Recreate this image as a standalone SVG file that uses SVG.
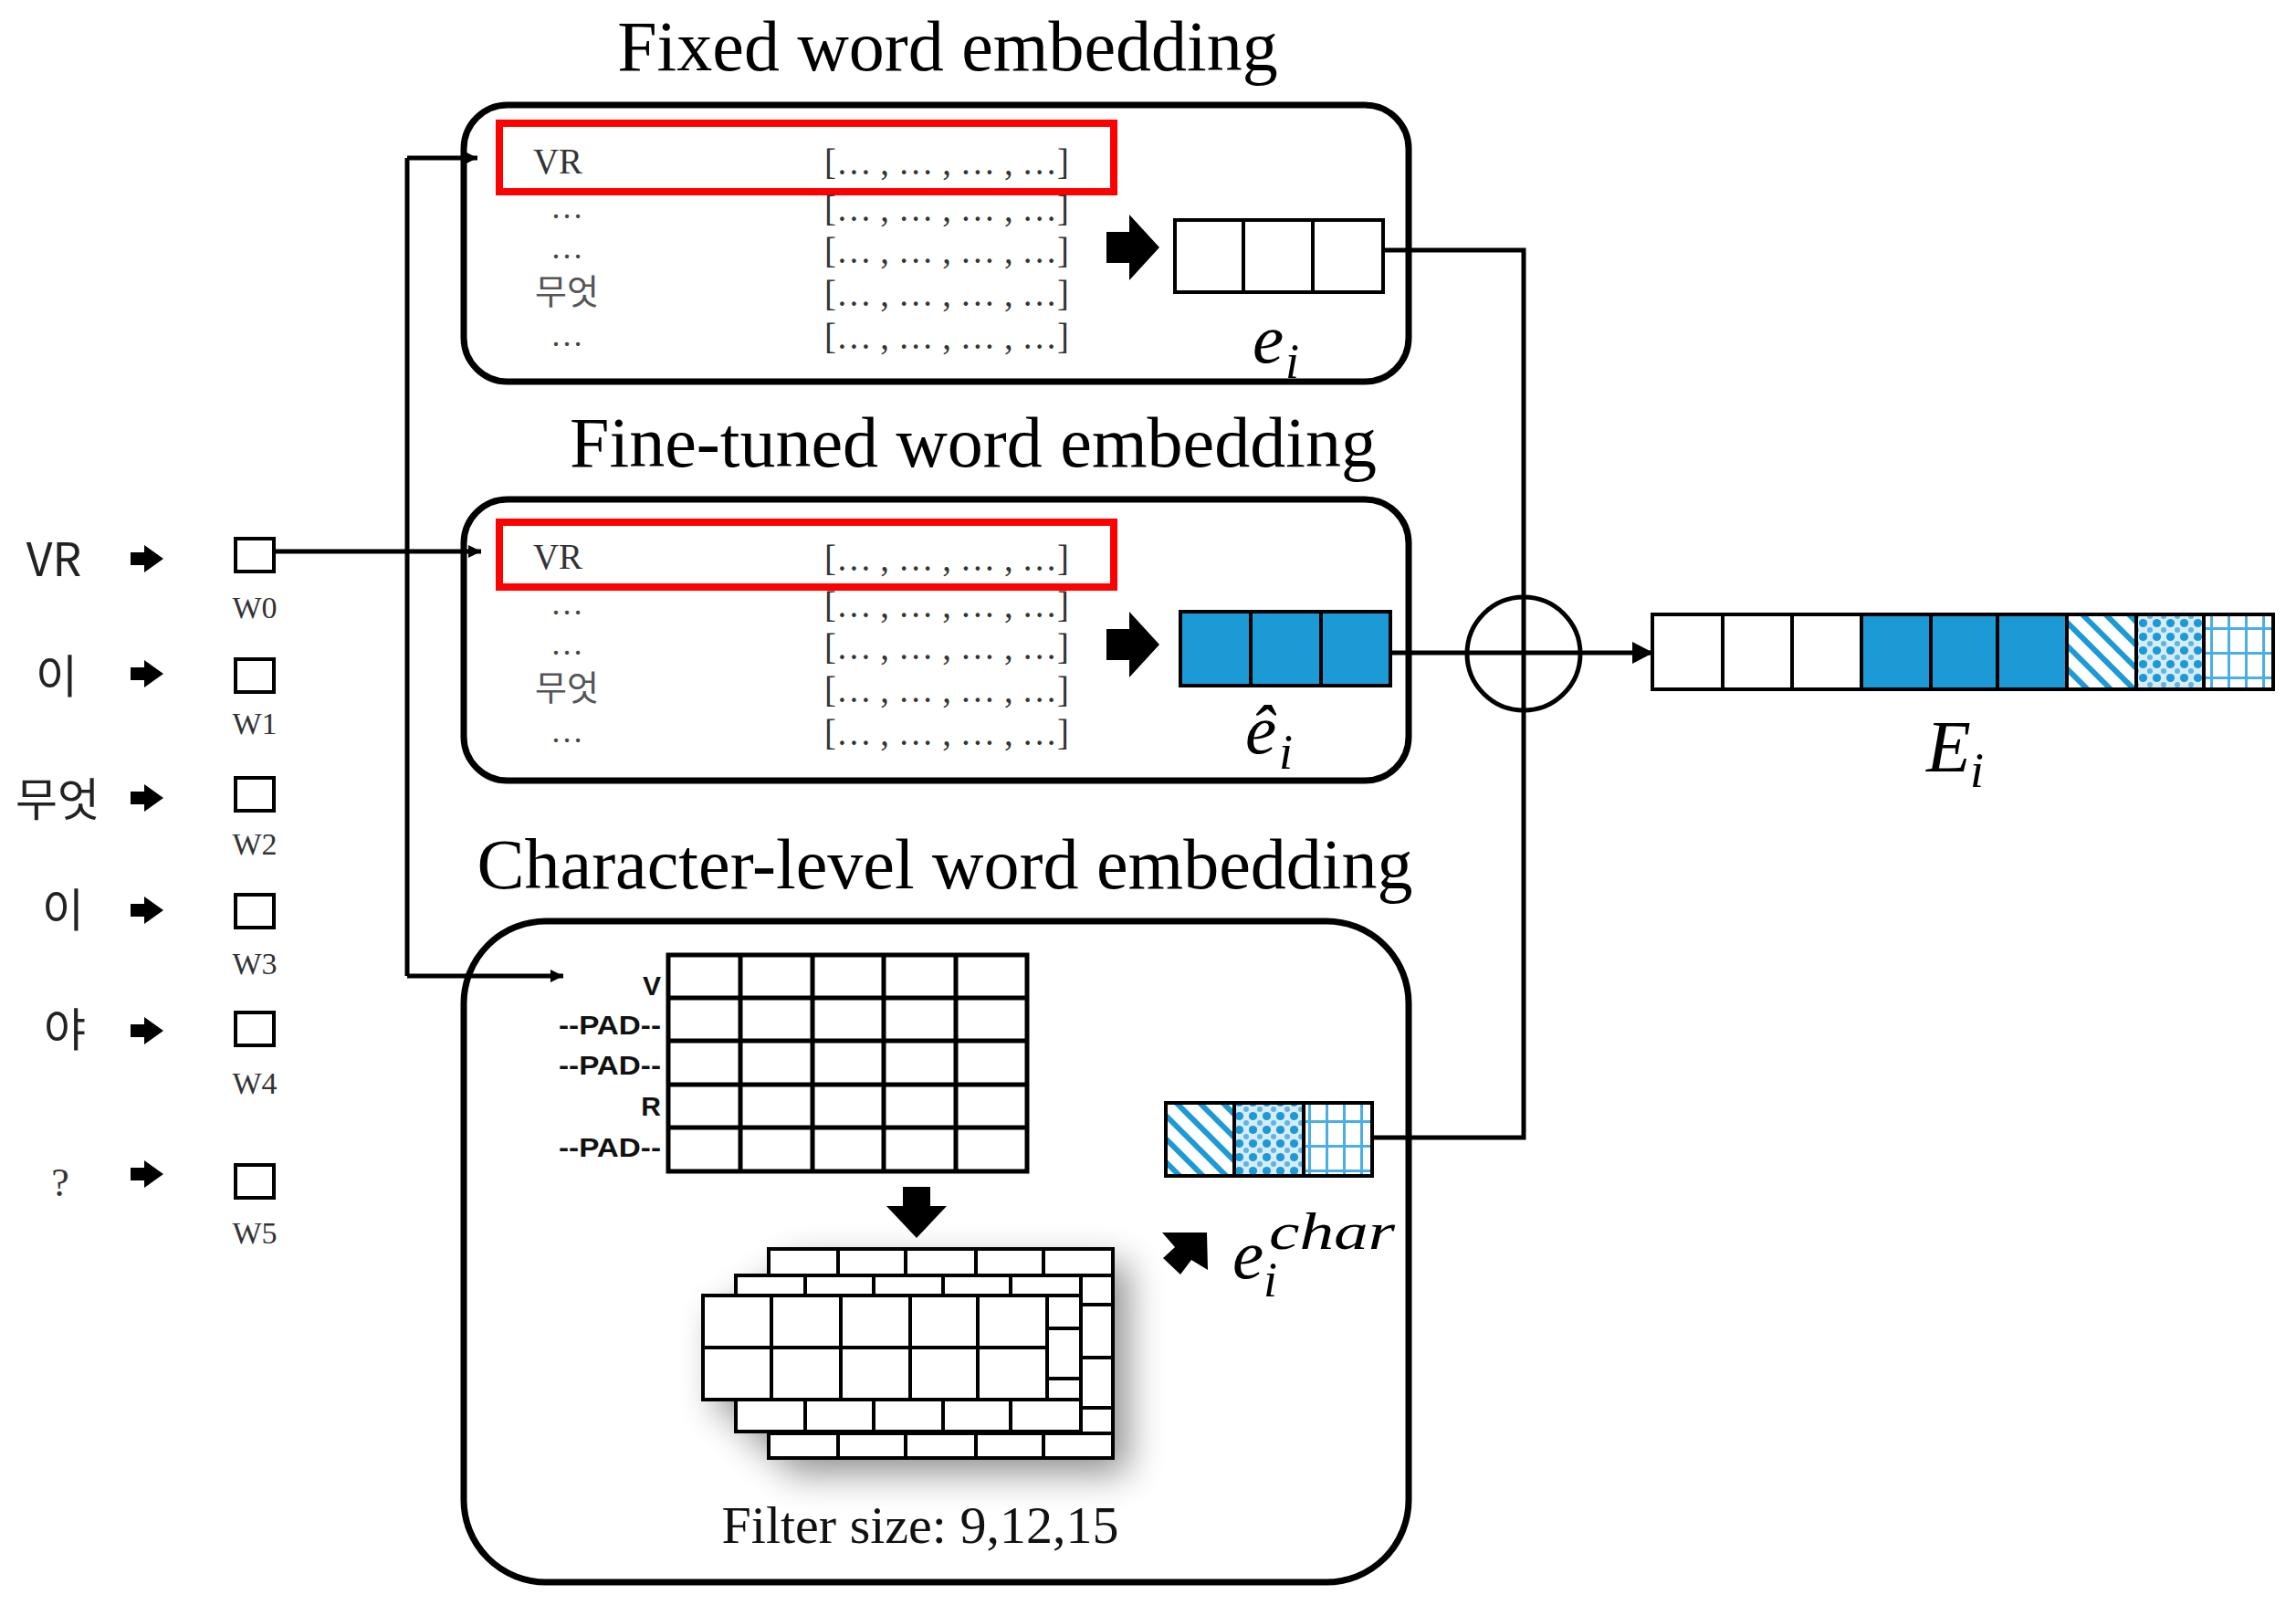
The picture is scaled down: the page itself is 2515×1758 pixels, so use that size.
<svg xmlns="http://www.w3.org/2000/svg" width="2515" height="1758" viewBox="0 0 2515 1758">
<defs>
<style>
.title{font-family:"Liberation Serif","Times New Roman",serif;font-size:78px;fill:#000;text-anchor:middle}
.box{fill:none;stroke:#000;stroke-width:7}
.red{fill:none;stroke:#ff0000;stroke-width:8}
.row{font-family:"Liberation Serif","Times New Roman",serif;font-size:40px;fill:#333}
.lab{font-family:"Liberation Serif","Times New Roman",serif;font-size:39px;fill:#333}
.dots{font-family:"Liberation Serif","Times New Roman",serif;font-size:36px;fill:#444;text-anchor:middle}
.kr{font-family:"Noto Sans CJK KR",sans-serif}
.cell{stroke:#000;stroke-width:4}
.conn{fill:none;stroke:#000;stroke-width:5}
.math{font-family:"Liberation Serif","Times New Roman",serif;font-style:italic;fill:#000}
.pad{font-family:"Liberation Sans",Arial,sans-serif;font-weight:bold;font-size:30px;text-anchor:end;fill:#111}
.grid{fill:none;stroke:#000;stroke-width:5}
.fl{stroke:#000;stroke-width:4}
.w{font-family:"Liberation Serif","Times New Roman",serif;font-size:34px;fill:#333;text-anchor:middle}
.word{font-family:"Noto Sans CJK KR",sans-serif;font-size:50px;text-anchor:middle;fill:#222}
</style>
<pattern id="pDiag" patternUnits="userSpaceOnUse" width="18" height="18" patternTransform="rotate(-45)">
<rect width="18" height="18" fill="#fff"/>
<rect width="6" height="18" fill="#1C9AD6"/>
</pattern>
<pattern id="pDots" patternUnits="userSpaceOnUse" width="15" height="15">
<rect width="15" height="15" fill="#d6ecf8"/>
<circle cx="7.5" cy="7.5" r="4.6" fill="#1C9AD6"/>
<circle cx="0" cy="0" r="3" fill="#5fb5e3"/>
<circle cx="15" cy="0" r="3" fill="#5fb5e3"/>
<circle cx="0" cy="15" r="3" fill="#5fb5e3"/>
<circle cx="15" cy="15" r="3" fill="#5fb5e3"/>
</pattern>
<pattern id="pGrid" patternUnits="userSpaceOnUse" width="19" height="27">
<rect width="19" height="27" fill="#fff"/>
<rect x="8" y="0" width="3" height="27" fill="#4aafe2"/>
<rect x="0" y="12" width="19" height="3" fill="#4aafe2"/>
</pattern>
<filter id="shadow" x="-25%" y="-25%" width="160%" height="170%">
<feGaussianBlur in="SourceAlpha" stdDeviation="20"/>
<feOffset dx="16" dy="16" result="b"/>
<feComponentTransfer><feFuncA type="linear" slope="0.45"/></feComponentTransfer>
<feMerge><feMergeNode/><feMergeNode in="SourceGraphic"/></feMerge>
</filter>
<marker id="ah" markerUnits="userSpaceOnUse" markerWidth="16" markerHeight="16" refX="14" refY="7" orient="auto">
<path d="M0,0 L14,7 L0,14 Z" fill="#000"/>
</marker>
<marker id="ahBig" markerUnits="userSpaceOnUse" markerWidth="26" markerHeight="26" refX="23" refY="12" orient="auto">
<path d="M0,0 L23,12 L0,24 Z" fill="#000"/>
</marker>
<path id="blkR" d="M0,-17 L25,-17 L25,-36 L58,0 L25,36 L25,17 L0,17 Z" fill="#000"/>
<path id="smR" d="M0,-7 L15,-7 L15,-15 L36,0 L15,15 L15,7 L0,7 Z" fill="#000"/>
</defs>

<rect width="2515" height="1758" fill="#fff"/>

<!-- Titles -->
<text class="title" x="1038" y="77">Fixed word embedding</text>
<text class="title" x="1066" y="511">Fine-tuned word embedding</text>
<text class="title" x="1035" y="973">Character-level word embedding</text>

<!-- Input words -->
<g id="word-w0">
<text class="word" x="59" y="631" font-size="47">VR</text>
<use href="#smR" transform="translate(143,612)"/>
<rect x="258" y="590" width="42" height="36" fill="#fff" stroke="#000" stroke-width="4"/>
<text class="w" x="279" y="677">W0</text>
</g>
<g id="word-w1">
<text class="word" x="62" y="759">이</text>
<use href="#smR" transform="translate(143,738)"/>
<rect x="258" y="722" width="42" height="36" fill="#fff" stroke="#000" stroke-width="4"/>
<text class="w" x="279" y="804">W1</text>
</g>
<g id="word-w2">
<text class="word" x="63" y="894">무엇</text>
<use href="#smR" transform="translate(143,874)"/>
<rect x="258" y="852" width="42" height="36" fill="#fff" stroke="#000" stroke-width="4"/>
<text class="w" x="279" y="936">W2</text>
</g>
<g id="word-w3">
<text class="word" x="69" y="1015">이</text>
<use href="#smR" transform="translate(143,997)"/>
<rect x="258" y="980" width="42" height="36" fill="#fff" stroke="#000" stroke-width="4"/>
<text class="w" x="279" y="1067">W3</text>
</g>
<g id="word-w4">
<text class="word" x="71" y="1146">야</text>
<use href="#smR" transform="translate(143,1129)"/>
<rect x="258" y="1109" width="42" height="36" fill="#fff" stroke="#000" stroke-width="4"/>
<text class="w" x="279" y="1198">W4</text>
</g>
<g id="word-w5">
<text x="66" y="1310" font-family="Liberation Serif, serif" font-size="44" text-anchor="middle" fill="#333">?</text>
<use href="#smR" transform="translate(143,1286)"/>
<rect x="258" y="1276" width="42" height="36" fill="#fff" stroke="#000" stroke-width="4"/>
<text class="w" x="279" y="1362">W5</text>
</g>

<!-- Fixed word embedding -->
<g id="fixed-embedding">
<rect class="box" x="508" y="115" width="1035" height="303" rx="48"/>
<rect class="red" x="547" y="135" width="673" height="75"/>
<text class="lab" x="584" y="190" textLength="54" lengthAdjust="spacingAndGlyphs">VR</text>
<text class="dots" x="621" y="239">…</text>
<text class="dots" x="621" y="283">…</text>
<text class="kr" x="621" y="333" font-size="38" text-anchor="middle" fill="#555">무엇</text>
<text class="dots" x="621" y="379">…</text>
<text class="row" x="903" y="191" textLength="268" lengthAdjust="spacingAndGlyphs">[… , … , … , …]</text>
<text class="row" x="903" y="242" textLength="268" lengthAdjust="spacingAndGlyphs">[… , … , … , …]</text>
<text class="row" x="903" y="288" textLength="268" lengthAdjust="spacingAndGlyphs">[… , … , … , …]</text>
<text class="row" x="903" y="335" textLength="268" lengthAdjust="spacingAndGlyphs">[… , … , … , …]</text>
<text class="row" x="903" y="382" textLength="268" lengthAdjust="spacingAndGlyphs">[… , … , … , …]</text>
<use href="#blkR" transform="translate(1212,271)"/>
<rect class="cell" x="1287" y="241" width="228" height="79" fill="#fff"/>
<line class="cell" x1="1362" y1="241" x2="1362" y2="320"/>
<line class="cell" x1="1438" y1="241" x2="1438" y2="320"/>
<text class="math" font-size="77"><tspan x="1372" y="397">e</tspan><tspan x="1408" y="414" font-size="54">i</tspan></text>
</g>

<!-- Fine-tuned word embedding -->
<g id="finetuned-embedding">
<rect class="box" x="508" y="547" width="1035" height="308" rx="48"/>
<rect class="red" x="547" y="572" width="673" height="71"/>
<text class="lab" x="584" y="623" textLength="54" lengthAdjust="spacingAndGlyphs">VR</text>
<text class="dots" x="621" y="673">…</text>
<text class="dots" x="621" y="717">…</text>
<text class="kr" x="621" y="767" font-size="38" text-anchor="middle" fill="#555">무엇</text>
<text class="dots" x="621" y="813">…</text>
<text class="row" x="903" y="625" textLength="268" lengthAdjust="spacingAndGlyphs">[… , … , … , …]</text>
<text class="row" x="903" y="676" textLength="268" lengthAdjust="spacingAndGlyphs">[… , … , … , …]</text>
<text class="row" x="903" y="722" textLength="268" lengthAdjust="spacingAndGlyphs">[… , … , … , …]</text>
<text class="row" x="903" y="769" textLength="268" lengthAdjust="spacingAndGlyphs">[… , … , … , …]</text>
<text class="row" x="903" y="816" textLength="268" lengthAdjust="spacingAndGlyphs">[… , … , … , …]</text>
<use href="#blkR" transform="translate(1212,706)"/>
<rect class="cell" x="1293" y="670" width="230" height="81" fill="#1C9AD6"/>
<line class="cell" x1="1370" y1="670" x2="1370" y2="751"/>
<line class="cell" x1="1447" y1="670" x2="1447" y2="751"/>
<text class="math" font-size="77"><tspan x="1364" y="825">ê</tspan><tspan x="1401" y="842" font-size="54">i</tspan></text>
</g>

<!-- Character-level word embedding -->
<g id="char-embedding">
<rect class="box" x="508" y="1009" width="1035" height="724" rx="90"/>
<g id="char-matrix">
<rect class="grid" x="732" y="1046" width="393" height="237" fill="#fff"/>
<path class="grid" d="M811,1046V1283 M890,1046V1283 M968,1046V1283 M1047,1046V1283 M732,1093H1125 M732,1140H1125 M732,1188H1125 M732,1235H1125"/>
<text class="pad" x="724" y="1090">V</text>
<text class="pad" x="724" y="1133" textLength="112" lengthAdjust="spacingAndGlyphs">--PAD--</text>
<text class="pad" x="724" y="1177" textLength="112" lengthAdjust="spacingAndGlyphs">--PAD--</text>
<text class="pad" x="724" y="1222">R</text>
<text class="pad" x="724" y="1267" textLength="112" lengthAdjust="spacingAndGlyphs">--PAD--</text>
</g>
<path d="M989,1300 H1019 V1321 H1037 L1004,1356 L971,1321 H989 Z" fill="#000"/>
<g id="filters">
<g filter="url(#shadow)">
<rect x="842" y="1368" width="377" height="229" fill="#fff"/>
<rect x="806" y="1397" width="378" height="171" fill="#fff"/>
<rect x="770" y="1419" width="377" height="114" fill="#fff"/>
</g>
<rect class="fl" x="842" y="1368" width="377" height="229" fill="#fff"/>
<path class="fl" fill="none" d="M918,1368V1597 M992,1368V1597 M1069,1368V1597 M1143,1368V1597 M842,1397H1219 M842,1429H1219 M842,1487H1219 M842,1542H1219 M842,1570H1219"/>
<rect class="fl" x="806" y="1397" width="378" height="171" fill="#fff"/>
<path class="fl" fill="none" d="M882,1397V1568 M957,1397V1568 M1033,1397V1568 M1107,1397V1568 M806,1419H1184 M806,1455H1184 M806,1510H1184 M806,1533H1184"/>
<rect class="fl" x="770" y="1419" width="377" height="114" fill="#fff"/>
<path class="fl" fill="none" d="M845,1419V1533 M921,1419V1533 M997,1419V1533 M1071,1419V1533 M770,1476H1147"/>
</g>
<text x="1008" y="1690" font-family="Liberation Serif, 'Times New Roman', serif" font-size="58" text-anchor="middle" fill="#111">Filter size: 9,12,15</text>
<path d="M1322,1350 L1323,1391 L1305,1380 L1293,1396 L1274,1378 L1287,1366 L1273,1350 Z" fill="#000"/>
<rect x="1277" y="1208" width="75" height="80" fill="url(#pDiag)"/>
<rect x="1352" y="1208" width="76" height="80" fill="url(#pDots)"/>
<rect x="1428" y="1208" width="75" height="80" fill="url(#pGrid)"/>
<rect class="cell" x="1277" y="1208" width="226" height="80" fill="none"/>
<line class="cell" x1="1352" y1="1208" x2="1352" y2="1288"/>
<line class="cell" x1="1428" y1="1208" x2="1428" y2="1288"/>
<text class="math" font-size="77"><tspan x="1350" y="1400">e</tspan><tspan x="1384" y="1420" font-size="54">i</tspan></text>
<text class="math" x="1390" y="1368" font-size="56" textLength="138" lengthAdjust="spacingAndGlyphs">char</text>
</g>

<!-- Combination operator -->
<g id="concat-op">
<circle cx="1669" cy="716" r="62" fill="none" stroke="#000" stroke-width="5"/>
</g>

<!-- Final embedding E_i -->
<g id="final-embedding">
<rect x="1810" y="673" width="229" height="82" fill="#fff"/>
<rect x="2039" y="673" width="225" height="82" fill="#1C9AD6"/>
<rect x="2264" y="673" width="76" height="82" fill="url(#pDiag)"/>
<rect x="2340" y="673" width="74" height="82" fill="url(#pDots)"/>
<rect x="2414" y="673" width="76" height="82" fill="url(#pGrid)"/>
<rect class="cell" x="1810" y="673" width="680" height="82" fill="none"/>
<path class="cell" d="M1887,673V755 M1963,673V755 M2039,673V755 M2115,673V755 M2188,673V755 M2264,673V755 M2340,673V755 M2414,673V755"/>
<text class="math" font-size="80"><tspan x="2110" y="845">E</tspan><tspan x="2158" y="862" font-size="54">i</tspan></text>
</g>

<!-- Connectors -->
<g id="connectors">
<path class="conn" d="M446,173 V1069"/>
<path class="conn" d="M446,173 H523" marker-end="url(#ah)"/>
<path class="conn" d="M300,604 H527" marker-end="url(#ah)"/>
<path class="conn" d="M446,1069 H617" marker-end="url(#ah)"/>
<path class="conn" d="M1515,274 H1669 V1246 H1503"/>
<path class="conn" d="M1523,715 H1811" marker-end="url(#ahBig)"/>
</g>
</svg>
